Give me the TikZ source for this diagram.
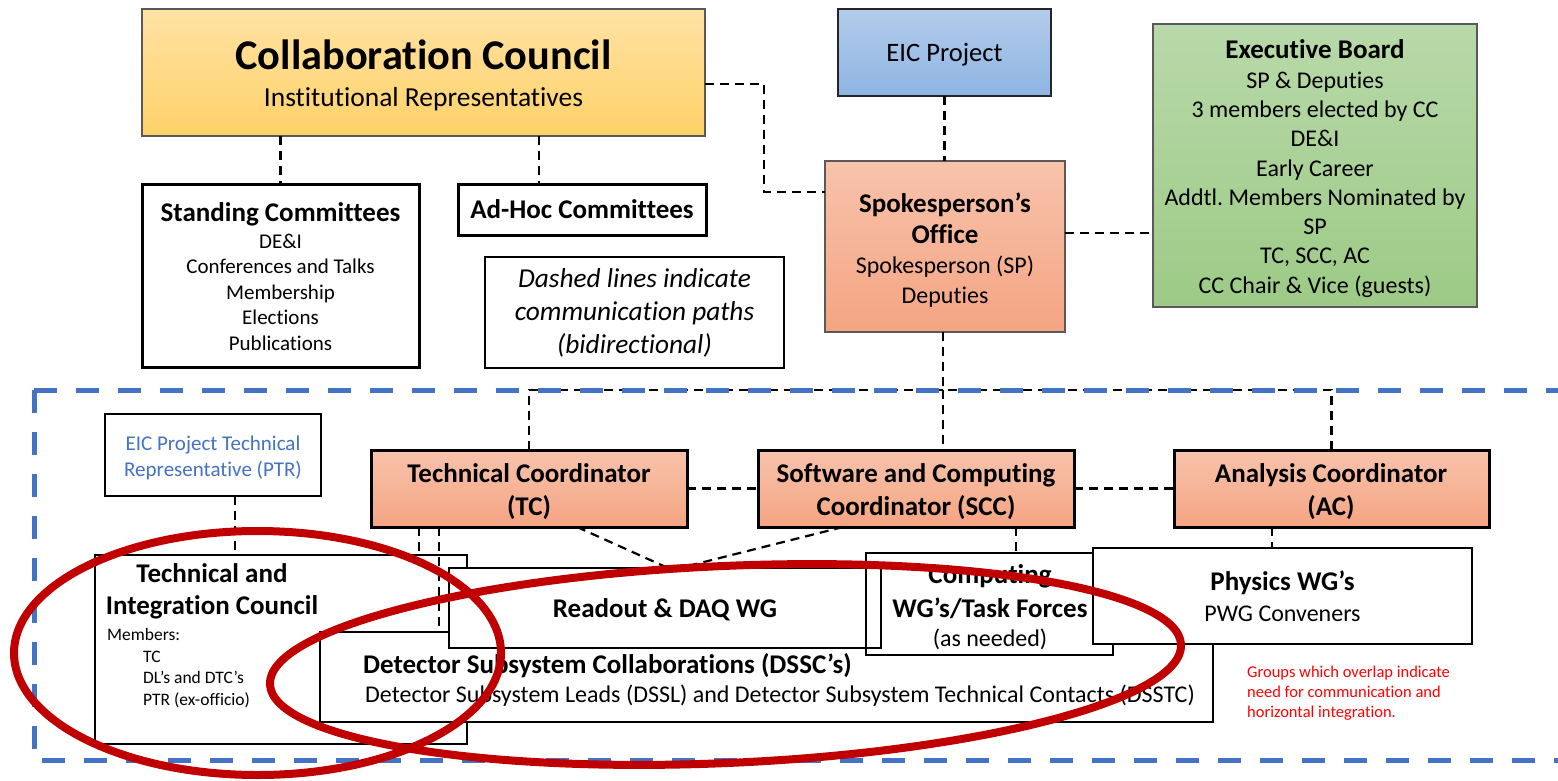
\documentclass[tikz,border=0pt]{standalone}
\usepackage{fontspec}
\setmainfont{Carlito}[Ligatures=NoCommon]
\frenchspacing
\definecolor{ccTop}{HTML}{FFE2A4}
\definecolor{ccBot}{HTML}{FFD168}
\definecolor{eicTop}{HTML}{B3CCEA}
\definecolor{eicBot}{HTML}{8EB4E3}
\definecolor{ebTop}{HTML}{B8D9A9}
\definecolor{ebBot}{HTML}{9DCA86}
\definecolor{saTop}{HTML}{F8C3AC}
\definecolor{saBot}{HTML}{F4A482}
\definecolor{frameBlue}{HTML}{4472C4}
\definecolor{ringRed}{HTML}{C00000}
\definecolor{noteRed}{HTML}{FF0000}
\definecolor{edgeGray}{HTML}{595959}
\newcommand{\boxat}[6]{\node[#2, minimum width={(#5)-(#3)}, minimum height={(#6)-(#4)}] (#1) at ({((#3)+(#5))/2},{((#4)+(#6))/2}) {};}
\begin{document}
\begin{tikzpicture}[x=1pt,y=-1pt,
  box/.style={draw=black, line width=2.5pt, fill=white, inner sep=0pt, outer sep=0pt},
  thickbox/.style={box, line width=3pt},
  thinbox/.style={box, line width=1.5pt},
  ccbox/.style={draw=edgeGray, line width=1.5pt, inner sep=0pt, outer sep=0pt, top color=ccTop, bottom color=ccBot},
  eicbox/.style={draw=black!85, line width=2pt, inner sep=0pt, outer sep=0pt, top color=eicTop, bottom color=eicBot},
  ebbox/.style={draw=edgeGray, line width=1.5pt, inner sep=0pt, outer sep=0pt, top color=ebTop, bottom color=ebBot},
  spbox/.style={draw=edgeGray, line width=1.5pt, inner sep=0pt, outer sep=0pt, top color=saTop, bottom color=saBot},
  crbox/.style={draw=black, line width=3pt, inner sep=0pt, outer sep=0pt, top color=saTop, bottom color=saBot},
  conn/.style={draw=black, line width=2.2pt, dash pattern=on 9pt off 6pt},
  frameline/.style={draw=frameBlue, line width=5pt, dash pattern=on 23pt off 19pt},
  ring/.style={draw=ringRed, line width=8pt},
  lbl/.style={inner sep=0pt, anchor=base},
  lblw/.style={inner sep=0pt, anchor=base west},
  f42b/.style={font=\fontsize{42.3}{50}\selectfont\bfseries},
  f27/.style={font=\fontsize{27.5}{33}\selectfont},
  f26/.style={font=\fontsize{26.6}{31}\selectfont},
  f27b/.style={font=\fontsize{27}{32}\selectfont\bfseries},
  f27i/.style={font=\fontsize{27.3}{32}\selectfont\itshape},
  f24/.style={font=\fontsize{24}{29}\selectfont},
  f21/.style={font=\fontsize{21}{25}\selectfont},
  f17/.style={font=\fontsize{17.5}{21}\selectfont},
  f16/.style={font=\fontsize{16.5}{20}\selectfont, text=noteRed},
]
\useasboundingbox (0,0) rectangle (1558,781);

% ---- boxes ----
\boxat{cc}{ccbox}{142}{9}{705}{136}
\boxat{eic}{eicbox}{838}{9}{1051}{96}
\boxat{eb}{ebbox}{1153}{24}{1477}{307}
\boxat{sp}{spbox}{825}{161}{1065}{332}
\boxat{sc}{thickbox}{142}{184}{419}{367}
\boxat{ah}{thickbox}{458}{184}{706}{235}
\boxat{note}{thinbox}{485}{257}{784}{368}
\boxat{ptr}{box}{105}{414}{321}{496}
\boxat{tc}{crbox}{371}{450}{687}{527}
\boxat{scc}{crbox}{758}{450}{1074}{527}
\boxat{ac}{crbox}{1174}{450}{1489}{527}
\boxat{tic}{box}{95}{555}{467}{744}
\boxat{dssc}{box}{320}{632}{1213}{722}
\boxat{cw}{box}{866}{553}{1113}{655}
\boxat{rd}{box}{449}{568}{881}{648}
\draw[line width=2.5pt] (cw.north west) -- (cw.south west);
\boxat{pw}{box}{1093}{548}{1472}{644}

% ---- texts ----
\node[lbl,f42b] (cct) at (423.5,70) {Collaboration Council};
\node[lbl,f27] (ccs) at (423.5,107) {Institutional Representatives};
\node[lbl,f26] (eict) at (944.5,62) {EIC Project};
\node[lbl,f27b] (ebt) at (1315,59) {Executive Board};
\foreach \s [count=\i] in {SP \& Deputies, 3 members elected by CC, DE\&I, Early Career, Addtl. Members Nominated by, SP, {TC, SCC, AC}, CC Chair \& Vice (guests)}
  \node[lbl,f24,name=ebl\i] at (1315,{59+29.25*\i}) {\s};
\node[lbl,f27b] (spt1) at (945,212) {Spokesperson’s};
\node[lbl,f27b] (spt2) at (945,243) {Office};
\node[lbl,f24] (spt3) at (945,273) {Spokesperson (SP)};
\node[lbl,f24] (spt4) at (945,303) {Deputies};
\node[lbl,f27b] (sct) at (280.5,221) {Standing Committees};
\foreach \s [count=\i] in {DE\&I, Conferences and Talks, Membership, Elections, Publications}
  \node[lbl,f21,name=scl\i] at (280.5,{222.5+25.5*\i}) {\s};
\node[lbl,f27b] (aht) at (582,218) {Ad-Hoc Committees};
\node[lbl,f27i] (nt1) at (634.5,287) {Dashed lines indicate};
\node[lbl,f27i] (nt2) at (634.5,320) {communication paths};
\node[lbl,f27i] (nt3) at (634.5,353) {(bidirectional)};
\node[lbl,font=\fontsize{21}{25}\selectfont,text=frameBlue] (ptr1) at (213,450) {EIC Project Technical};
\node[lbl,font=\fontsize{21}{25}\selectfont,text=frameBlue] (ptr2) at (213,476) {Representative (PTR)};
\node[lbl,f27b] (tct1) at (529,482) {Technical Coordinator};
\node[lbl,f27b] (tct2) at (529,515) {(TC)};
\node[lbl,f27b] (sct1) at (916,482) {Software and Computing};
\node[lbl,f27b] (sct2) at (916,515) {Coordinator (SCC)};
\node[lbl,f27b] (act1) at (1331,482) {Analysis Coordinator};
\node[lbl,f27b] (act2) at (1331,515) {(AC)};
\node[lbl,f27b] (tict1) at (212,582) {Technical and};
\node[lbl,f27b] (tict2) at (212,614) {Integration Council};
\node[lblw,f17] (ticm) at (107,640) {Members:};
\node[lblw,f17] (ticm1) at (143,662) {TC};
\node[lblw,f17] (ticm2) at (143,683.5) {DL’s and DTC’s};
\node[lblw,f17] (ticm3) at (143,705) {PTR (ex-officio)};
\node[lbl,f27b] (rdt) at (665,617) {Readout \& DAQ WG};
\node[lblw,f27b] (dst1) at (363,673) {Detector Subsystem Collaborations (DSSC’s)};
\node[lblw,f24] (dst2) at (365,702) {Detector Subsystem Leads (DSSL) and Detector Subsystem Technical Contacts (DSSTC)};
\node[lbl,f27b] (cwt1) at (990,583) {Computing};
\node[lbl,f27b] (cwt2) at (990,617) {WG’s/Task Forces};
\node[lbl,f24] (cwt3) at (990,646) {(as needed)};
\node[lbl,f27b] (pwt1) at (1282.5,590) {Physics WG’s};
\node[lbl,f24] (pwt2) at (1282.5,621) {PWG Conveners};
\node[lblw,f16] (rn1) at (1247,677) {Groups which overlap indicate};
\node[lblw,f16] (rn2) at (1247,697) {need for communication and};
\node[lblw,f16] (rn3) at (1247,717) {horizontal integration.};

% ---- connectors ----
\coordinate (j1) at (764,84);
\coordinate (j2) at (764,192);
\draw[conn] (cc.east |- j1) -- (j1) -- (j2) -- (sp.west |- j2);
\coordinate (j3) at (1100,233);
\draw[conn] (sp.east |- j3) -- (eb.west |- j3);
\draw[conn] (eic.south) -- (eic.south |- sp.north);
\draw[conn] (cc.south -| sc.north) -- (sc.north);
\coordinate (j4) at (539,160);
\draw[conn] (cc.south -| j4) -- (ah.north -| j4);
\coordinate (bus) at (943,390);
\draw[conn] (sp.south -| bus) -- (bus);
\draw[conn] (tc.north) |- (bus);
\draw[conn] (ac.north) |- (bus);
\draw[conn] (bus) -- (bus |- scc.north);
\draw[conn] (tc.east) -- (scc.west);
\draw[conn] (scc.east) -- (ac.west);
\coordinate (j5) at (235,500);
\draw[conn] (ptr.south -| j5) -- (tic.north -| j5);
\coordinate (j6) at (419,500);
\draw[conn] (tc.south -| j6) -- (tic.north -| j6);
\coordinate (j7) at (439,500);
\draw[conn] (tc.south -| j7) -- (dssc.north -| j7);
\coordinate (j8) at (577,500);
\coordinate (j9) at (843,500);
\draw[conn] (tc.south -| j8) -- ([xshift=3pt]rd.north);
\draw[conn] (scc.south -| j9) -- ([xshift=15pt]rd.north);
\coordinate (j10) at (1016,500);
\draw[conn] (scc.south -| j10) -- (cw.north -| j10);
\coordinate (j11) at (1272,500);
\draw[conn] (ac.south -| j11) -- (pw.north -| j11);

% ---- blue frame ----
\draw[frameline] (34,390) -- (1575,390);
\draw[frameline] (34,390) -- (34,760) -- (1575,760);

% ---- red rings ----
\draw[ring] (257.5,653) ellipse [x radius=243.5, y radius=122];
\draw[ring, rotate around={2.5:(725.5,664.5)}] (725.5,664.5) ellipse [x radius=456, y radius=98.5];
\end{tikzpicture}
\end{document}
